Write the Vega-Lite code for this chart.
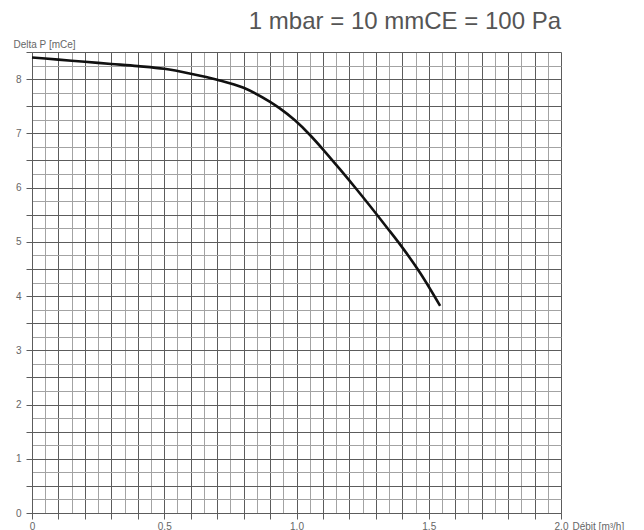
{
  "$schema": "https://vega.github.io/schema/vega-lite/v6.json",
  "autosize": "none",
  "width": 529,
  "height": 461,
  "padding": {"left": 32, "top": 52, "right": 83, "bottom": 17},
  "background": "white",
  "config": {
    "font": "Liberation Sans",
    "view": {"stroke": null}
  },
  "title": {
    "text": "1 mbar = 10 mmCE = 100 Pa",
    "anchor": "end",
    "frame": "group",
    "fontSize": 24,
    "fontWeight": "normal",
    "color": "#555555",
    "baseline": "alphabetic",
    "offset": 14,
    "dy": 28
  },
  "data": {
    "values": [
      {"debit": 0.0, "dp": 8.40},
      {"debit": 0.1, "dp": 8.36},
      {"debit": 0.2, "dp": 8.32},
      {"debit": 0.3, "dp": 8.28},
      {"debit": 0.4, "dp": 8.24},
      {"debit": 0.5, "dp": 8.19},
      {"debit": 0.6, "dp": 8.10},
      {"debit": 0.7, "dp": 7.99},
      {"debit": 0.8, "dp": 7.84},
      {"debit": 0.9, "dp": 7.58},
      {"debit": 0.937, "dp": 7.46},
      {"debit": 0.994, "dp": 7.24},
      {"debit": 1.051, "dp": 6.97},
      {"debit": 1.108, "dp": 6.66},
      {"debit": 1.164, "dp": 6.34},
      {"debit": 1.227, "dp": 5.97},
      {"debit": 1.341, "dp": 5.27},
      {"debit": 1.404, "dp": 4.87},
      {"debit": 1.467, "dp": 4.43},
      {"debit": 1.543, "dp": 3.82}
    ]
  },
  "mark": {"type": "line", "color": "#111111", "strokeWidth": 2.6, "interpolate": "monotone"},
  "encoding": {
    "x": {
      "field": "debit",
      "type": "quantitative",
      "scale": {"domain": [0, 2], "nice": false, "zero": true},
      "axis": {
        "values": [0,0.05,0.1,0.15,0.2,0.25,0.3,0.35,0.4,0.45,0.5,0.55,0.6,0.65,0.7,0.75,0.8,0.85,0.9,0.95,1,1.05,1.1,1.15,1.2,1.25,1.3,1.35,1.4,1.45,1.5,1.55,1.6,1.65,1.7,1.75,1.8,1.85,1.9,1.95,2],
        "grid": true,
        "gridColor": {"condition": {"test": "round(datum.value*100) % 10 == 0", "value": "#5c5c5c"}, "value": "#a3a3a3"},
        "gridOpacity": 1,
        "gridWidth": 1,
        "domain": true,
        "domainColor": "#5c5c5c",
        "ticks": true,
        "tickColor": "#5c5c5c",
        "tickSize": 6,
        "tickOpacity": {"condition": {"test": "round(datum.value*100) % 10 == 0", "value": 1}, "value": 0},
        "labelExpr": "datum.value == 0 ? '0' : (round(datum.value*100) % 50 == 0 ? format(datum.value, '.1f') : '')",
        "labelOverlap": false,
        "labelFlush": false,
        "labelFontSize": 10,
        "labelColor": "#666666",
        "labelPadding": 2,
        "title": "Débit [m³/h]",
        "titleFontSize": 10,
        "titleFontWeight": "normal",
        "titleColor": "#666666",
        "titleAlign": "left",
        "titleAnchor": null,
        "titleBaseline": "alphabetic",
        "titleX": 540,
        "titleY": 16
      }
    },
    "y": {
      "field": "dp",
      "type": "quantitative",
      "scale": {"domain": [0, 8.5], "nice": false, "zero": true},
      "axis": {
        "values": [0,0.25,0.5,0.75,1,1.25,1.5,1.75,2,2.25,2.5,2.75,3,3.25,3.5,3.75,4,4.25,4.5,4.75,5,5.25,5.5,5.75,6,6.25,6.5,6.75,7,7.25,7.5,7.75,8,8.25,8.5],
        "grid": true,
        "gridColor": {"condition": {"test": "round(datum.value*4) % 2 == 0", "value": "#5c5c5c"}, "value": "#a3a3a3"},
        "gridOpacity": 1,
        "gridWidth": 1,
        "domain": true,
        "domainColor": "#5c5c5c",
        "ticks": true,
        "tickColor": "#5c5c5c",
        "tickSize": 6,
        "tickOpacity": {"condition": {"test": "round(datum.value*4) % 2 == 0", "value": 1}, "value": 0},
        "labelExpr": "datum.value % 1 == 0 ? format(datum.value, 'd') : ''",
        "labelOverlap": false,
        "labelFlush": false,
        "labelFontSize": 10,
        "labelColor": "#666666",
        "labelPadding": 5,
        "title": "Delta P [mCe]",
        "titleFontSize": 10,
        "titleFontWeight": "normal",
        "titleColor": "#666666",
        "titleAngle": 0,
        "titleAlign": "left",
        "titleAnchor": null,
        "titleBaseline": "middle",
        "titleX": -19,
        "titleY": -8
      }
    }
  }
}
